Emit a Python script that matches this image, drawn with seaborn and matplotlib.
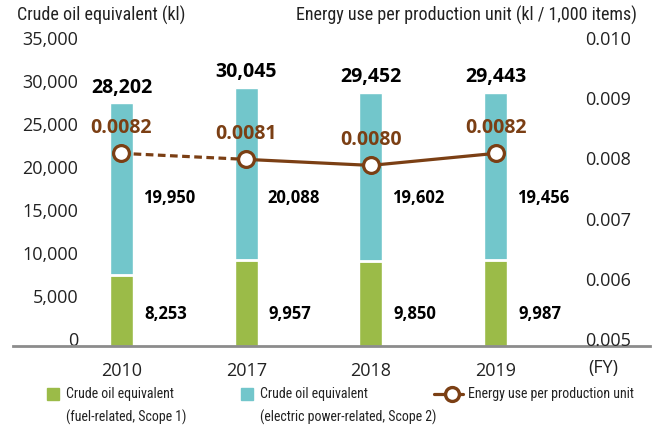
import matplotlib
matplotlib.use('Agg')
import matplotlib.pyplot as plt
import matplotlib.transforms as mtransforms
from matplotlib import font_manager
from matplotlib.patches import Rectangle
from matplotlib.lines import Line2D
import seaborn as sns
import pandas as pd
import numpy as np

# Data
years = ['2010', '2017', '2018', '2019']
scope1 = [8253, 9957, 9850, 9987]        # fuel-related
scope2 = [19950, 20088, 19602, 19456]    # electric power-related
totals = [28202, 30045, 29452, 29443]
intensity = [0.0082, 0.0081, 0.0080, 0.0082]

GREEN = '#9bbb48'
TEAL = '#72c6cb'
BROWN = '#7b3f14'
TEXT = '#222222'

sns.set_theme(style='white')
plt.rcParams['font.family'] = ['Open Sans', 'DejaVu Sans']


def pick_narrow():
    for name in ['Liberation Sans Narrow', 'Roboto Condensed']:
        try:
            font_manager.findfont(name, fallback_to_default=False)
            return name, 1.0
        except ValueError:
            pass
    return 'Open Sans', 0.85


NARROW, NSCALE = pick_narrow()

W, H = 652, 428
fig = plt.figure(figsize=(W / 100, H / 100), dpi=100)
ax = fig.add_axes([13 / W, 82 / H, 637 / W, 301 / H])

df = pd.DataFrame({'year': years, 'total': totals, 'scope1': scope1})
bar_w = 0.184
pos = np.arange(len(years))

# stacked bars: total in teal, fuel part in green on top of it
sns.barplot(data=df, x='year', y='total', color=TEAL, width=bar_w,
            saturation=1, errorbar=None, ax=ax)
sns.barplot(data=df, x='year', y='scope1', color=GREEN, width=bar_w,
            saturation=1, errorbar=None, ax=ax)
ax.hlines(scope1, pos - bar_w / 2, pos + bar_w / 2, color='white', lw=2, zorder=3)

ax.set_xlim(-0.87, 4.238)
ax.set_ylim(0, 35000)
ax.set_xlabel('')
ax.set_ylabel('')
ax.set_yticks(range(0, 35001, 5000))
ax.set_yticklabels([f'{v:,}' for v in range(0, 35001, 5000)])
ax.tick_params(axis='y', length=0, pad=-46.8, labelsize=13, labelcolor=TEXT)
ax.tick_params(axis='x', length=0, pad=11.5, labelsize=13, labelcolor=TEXT)
for s in ['top', 'left', 'right']:
    ax.spines[s].set_visible(False)
ax.spines['bottom'].set_color('#8c8c8c')
ax.spines['bottom'].set_linewidth(2)

# secondary axis: energy use per production unit
ax2 = ax.twinx()
ax2.set_ylim(0.005, 0.010)
ax2.set_yticks([0.005, 0.006, 0.007, 0.008, 0.009, 0.010])
ax2.set_yticklabels([f'{v:.3f}' for v in [0.005, 0.006, 0.007, 0.008, 0.009, 0.010]])
ax2.tick_params(axis='y', length=0, pad=-46.8, labelsize=13, labelcolor=TEXT)
ax2.set_ylabel('')
for s in ax2.spines.values():
    s.set_visible(False)

sns.lineplot(x=pos[:2], y=intensity[:2], color=BROWN, lw=2.3,
             linestyle=(0, (2.4, 1.4)), ax=ax2)
sns.lineplot(x=pos[1:], y=intensity[1:], color=BROWN, lw=2.3, ax=ax2)
sns.scatterplot(x=pos, y=intensity, s=130, color='white', edgecolor=BROWN,
                linewidth=2.3, zorder=5, ax=ax2)
ax2.set_xlim(-0.87, 4.238)

# shift tick labels up a little, as in the original
off = mtransforms.ScaledTranslation(0, 7 / 100, fig.dpi_scale_trans)
for lbl in ax.get_yticklabels() + ax2.get_yticklabels():
    lbl.set_transform(lbl.get_transform() + off)

# value labels
for i in pos:
    ax.annotate(f'{totals[i]:,}', (i, totals[i]), xytext=(0, 4),
                textcoords='offset points', ha='center', va='bottom',
                fontsize=14, fontweight='bold', color='black')
    ax.annotate(f'{scope2[i]:,}', (i + bar_w / 2, 17200), xytext=(7, 0),
                textcoords='offset points', ha='left', va='center',
                fontsize=12, fontweight='bold', color='black')
    ax.annotate(f'{scope1[i]:,}', (i + bar_w / 2, 3700), xytext=(8, 0),
                textcoords='offset points', ha='left', va='center',
                fontsize=12, fontweight='bold', color='black')
    ax2.annotate(f'{intensity[i]:.4f}', (i, intensity[i]), xytext=(0, 18),
                 textcoords='offset points', ha='center', va='center',
                 fontsize=14, fontweight='bold', color=BROWN, zorder=6)

# axis titles
fig.text(17 / W, 1 - 15 / H, 'Crude oil equivalent (kl)', ha='left', va='center',
         family=NARROW, fontsize=13 * NSCALE, color=TEXT)
fig.text(637 / W, 1 - 15 / H, 'Energy use per production unit (kl / 1,000 items)',
         ha='right', va='center', family=NARROW, fontsize=13 * NSCALE, color=TEXT)
fig.text(603 / W, 1 - 368 / H, '(FY)', ha='center', va='center',
         fontsize=13, color=TEXT)

# legend
ly = 1 - 394 / H
fig.patches.append(Rectangle((47 / W, 1 - 400 / H), 12 / W, 12 / H,
                             transform=fig.transFigure, color=GREEN))
fig.patches.append(Rectangle((241 / W, 1 - 400 / H), 12 / W, 12 / H,
                             transform=fig.transFigure, color=TEAL))
fig.lines.append(Line2D([434 / W, 463 / W], [ly, ly], color=BROWN, lw=2.3,
                        transform=fig.transFigure))
fig.lines.append(Line2D([452 / W], [ly], marker='o', ms=10, mfc='white',
                        mec=BROWN, mew=2.4, transform=fig.transFigure))
leg_text = [(66, 'Crude oil equivalent', '(fuel-related, Scope 1)'),
            (260, 'Crude oil equivalent', '(electric power-related, Scope 2)'),
            (468, 'Energy use per production unit', '')]
for x, l1, l2 in leg_text:
    fig.text(x / W, ly, l1, ha='left', va='center', family=NARROW,
             fontsize=10 * NSCALE, color=TEXT)
    if l2:
        fig.text(x / W, 1 - 417 / H, l2, ha='left', va='center', family=NARROW,
                 fontsize=10 * NSCALE, color=TEXT)

fig.savefig('out.png', dpi=100)
